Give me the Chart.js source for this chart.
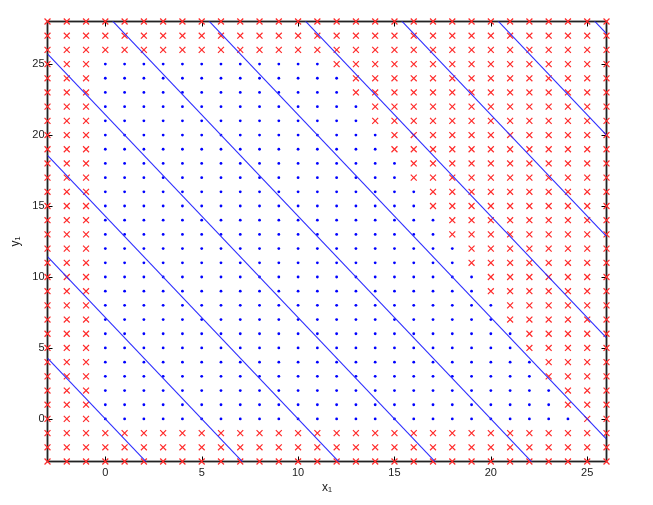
<!DOCTYPE html>
<html>
<head>
<meta charset="utf-8">
<script src="https://cdn.jsdelivr.net/npm/chart.js@4.4.1/dist/chart.umd.min.js"></script>
<style>
  body { margin: 0; background: #fff; }
</style>
</head>
<body>
<canvas id="latticeChart" width="653" height="505"></canvas>
<script>
// Lattice columns and rows shown in the plot
const gridX = [-3, -2, -1, 0, 1, 2, 3, 4, 5, 6, 7, 8, 9, 10, 11, 12, 13, 14, 15, 16, 17, 18, 19, 20, 21, 22, 23, 24, 25, 26];
const gridY = [-3, -2, -1, 0, 1, 2, 3, 4, 5, 6, 7, 8, 9, 10, 11, 12, 13, 14, 15, 16, 17, 18, 19, 20, 21, 22, 23, 24, 25, 26, 27, 28];

// Rows that hold blue dots, and the right-most blue dot on each (they start at x1 = 0)
const blueRowY = [0, 1, 2, 3, 4, 5, 6, 7, 8, 9, 10, 11, 12, 13, 14, 15, 16, 17, 18, 19, 20, 21, 22, 23, 24, 25];
const blueRowMaxX = [24, 23, 23, 22, 22, 21, 21, 20, 20, 19, 19, 18, 18, 17, 17, 16, 16, 15, 15, 14, 14, 13, 13, 12, 12, 11];

// Level lines 10*x1 + 7*y1 = level
const lineCoef = [10, 7];
const lineLevels = [0, 50, 100, 150, 200, 250, 300, 350, 400, 450];

// Tick labels
const xTicks = [0, 5, 10, 15, 20, 25];
const yTicks = [0, 5, 10, 15, 20, 25];

const blueDots = [];
const redCrosses = [];
gridY.forEach(y => {
    const row = blueRowY.indexOf(y);
    gridX.forEach(x => {
        const inside = row >= 0 && x >= 0 && x <= blueRowMaxX[row];
        (inside ? blueDots : redCrosses).push({ x: x, y: y });
    });
});

const lineSets = lineLevels.map(level => ({
    type: 'line',
    data: [gridX[0], gridX[gridX.length - 1]].map(x => ({ x: x, y: (level - lineCoef[0] * x) / lineCoef[1] })),
    borderColor: '#2f2fff',
    backgroundColor: '#2f2fff',
    borderWidth: 1.1,
    pointRadius: 0,
    fill: false,
    order: 0
}));

// Box round the plot with inward ticks on all four sides
const frameTicks = {
    id: 'frameTicks',
    beforeDatasetsDraw(chart) {
        const { ctx, chartArea: a, scales: { x, y } } = chart;
        ctx.save();
        ctx.strokeStyle = '#222';
        ctx.lineWidth = 1.8;
        ctx.strokeRect(a.left, a.top, a.right - a.left, a.bottom - a.top);
        ctx.strokeStyle = '#000';
        ctx.lineWidth = 1;
        ctx.beginPath();
        xTicks.forEach(v => {
            const px = Math.round(x.getPixelForValue(v)) + 0.5;
            ctx.moveTo(px, a.bottom); ctx.lineTo(px, a.bottom - 5);
            ctx.moveTo(px, a.top); ctx.lineTo(px, a.top + 5);
        });
        yTicks.forEach(v => {
            const py = Math.round(y.getPixelForValue(v)) + 0.5;
            ctx.moveTo(a.left, py); ctx.lineTo(a.left + 5, py);
            ctx.moveTo(a.right, py); ctx.lineTo(a.right - 5, py);
        });
        ctx.stroke();
        ctx.restore();
    }
};

const tickFont = { family: "'Liberation Sans', Arial, sans-serif", size: 11 };
const titleFont = { family: "'Liberation Sans', 'DejaVu Sans', sans-serif", size: 12 };

new Chart(document.getElementById('latticeChart'), {
    type: 'scatter',
    data: {
        datasets: [
            ...lineSets,
            {
                data: blueDots,
                pointStyle: 'circle',
                pointRadius: 1.4,
                backgroundColor: '#0000ff',
                borderWidth: 0,
                clip: false,
                order: 1
            },
            {
                data: redCrosses,
                pointStyle: 'crossRot',
                pointRadius: 4.2,
                borderColor: '#ff2a2a',
                borderWidth: 1.2,
                clip: false,
                order: 2
            }
        ]
    },
    options: {
        responsive: false,
        animation: false,
        events: [],
        layout: { padding: { left: 0, top: 21.5, right: 46.5, bottom: 0 } },
        plugins: { legend: { display: false }, tooltip: { enabled: false } },
        scales: {
            x: {
                type: 'linear',
                min: -3,
                max: 26,
                grid: { display: false, drawTicks: false },
                border: { display: false },
                afterBuildTicks: s => { s.ticks = xTicks.map(v => ({ value: v })); },
                afterFit: s => { s.height = 43.5; },
                ticks: { font: tickFont, color: '#222', padding: 5, maxRotation: 0 },
                title: { display: true, text: 'x₁', font: titleFont, color: '#222', padding: { top: 0, bottom: 10 } }
            },
            y: {
                type: 'linear',
                min: -3,
                max: 28,
                grid: { display: false, drawTicks: false },
                border: { display: false },
                afterBuildTicks: s => { s.ticks = yTicks.map(v => ({ value: v })); },
                afterFit: s => { s.width = 47.5; },
                ticks: { font: tickFont, color: '#222', padding: 3 },
                title: { display: true, text: 'y₁', font: titleFont, color: '#222', padding: { top: 8, bottom: 0 } }
            }
        }
    },
    plugins: [frameTicks]
});
</script>
</body>
</html>
